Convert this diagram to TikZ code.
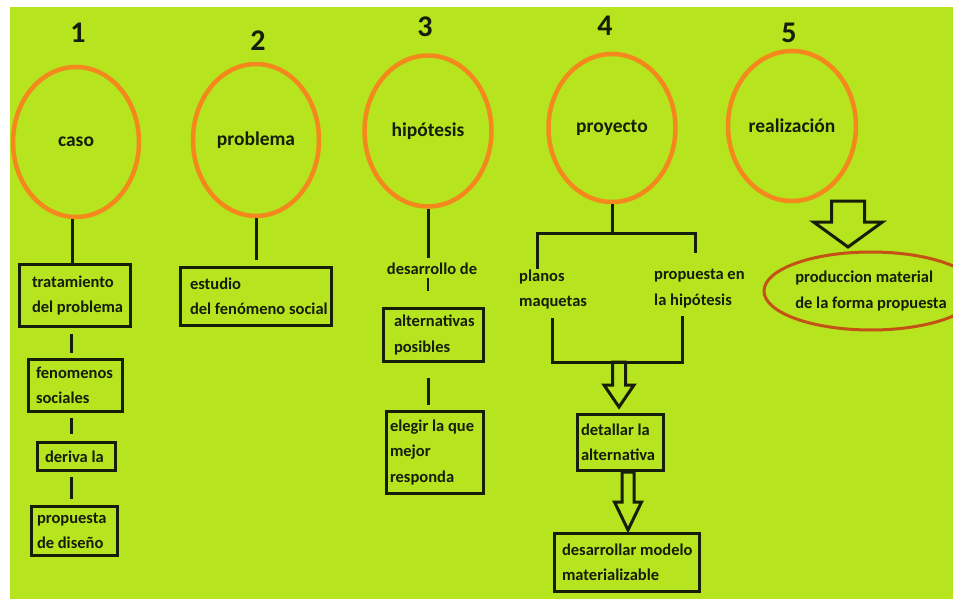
\documentclass[tikz,border=0pt]{standalone}
\usepackage{fontspec}
\setmainfont{Carlito}
\usetikzlibrary{shapes.geometric,calc}
\definecolor{bggreen}{RGB}{182,228,30}
\definecolor{ringorange}{RGB}{244,136,28}
\definecolor{ringred}{RGB}{196,82,22}
\definecolor{ink}{RGB}{22,30,10}
\tikzset{
  ring/.style={ellipse, draw=ringorange, line width=4.5pt, inner sep=0pt, text=ink,
    font=\fontsize{19.5}{22}\selectfont\bfseries},
  numlabel/.style={inner sep=0pt, text=ink, font=\fontsize{30}{32}\selectfont\bfseries},
  stepbox/.style={draw=ink, line width=3pt, align=flush left, inner ysep=2pt, text=ink,
    font=\fontsize{16.5}{25.5}\selectfont\bfseries},
  plaintext/.style={inner sep=0pt, align=left, text=ink,
    font=\fontsize{16.5}{25.5}\selectfont\bfseries},
  conn/.style={draw=ink, line width=3pt},
  harrow/.style={draw=ink, line width=3pt, line join=miter},
}
\newcommand\hollowdown[5]{%
  \draw[harrow] let \p1=(#1), \p2=(#2) in
    (\x1-#3,\y1) -- (\x1-#3,\y2+#5) -- (\x1-#4,\y2+#5) -- (\x1,\y2)
    -- (\x1+#4,\y2+#5) -- (\x1+#3,\y2+#5) -- (\x1+#3,\y1) -- cycle;}
\begin{document}
\begin{tikzpicture}[x=1pt,y=-1pt]
\useasboundingbox (0,0) rectangle (953,599);
\fill[white] (0,0) rectangle (953,599);
\fill[bggreen] (10,7) rectangle (953,599);

% numbers
\node[numlabel] (n1) at (78,33) {1};
\node[numlabel] (n2) at (258,41) {2};
\node[numlabel] (n3) at (425,27) {3};
\node[numlabel] (n4) at (605,26) {4};
\node[numlabel] (n5) at (789,33) {5};

% circles
\node[ring, minimum width=126pt, minimum height=150pt] (c1) at (76,142) {caso};
\node[ring, minimum width=126pt, minimum height=152pt] (c2) at (256,140) {problema};
\node[ring, minimum width=127pt, minimum height=151pt] (c3) at (428,131) {hipótesis};
\node[ring, minimum width=127pt, minimum height=148pt] (c4) at (612,128) {proyecto};
\node[ring, minimum width=128pt, minimum height=150pt] (c5) at (792,126) {realización};

% column 1
\node[stepbox, text width=86pt, inner xsep=12.5pt, minimum height=62pt] (b1) at (75,295.5)
  {tratamiento\\\mbox{del problema}};
\node[stepbox, text width=79pt, inner xsep=7.5pt, minimum height=52pt] (b2) at (75.5,385.5)
  {fenomenos\\sociales};
\node[stepbox, text width=63pt, inner xsep=7.5pt, minimum height=28pt] (b3) at (76.5,456.5)
  {deriva la};
\node[stepbox, text width=75pt, inner xsep=5.5pt, minimum height=49pt] (b4) at (74.5,531)
  {propuesta\\de diseño};

% column 2
\node[stepbox, text width=132pt, inner xsep=9.5pt, minimum height=58pt] (b5) at (256,296.5)
  {estudio\\\mbox{del fenómeno social}};

% column 3
\node[plaintext] (dd) at (432,269) {desarrollo de};
\node[stepbox, text width=79pt, inner xsep=10.5pt, minimum height=53pt] (b6) at (433.5,335)
  {\mbox{alternativas}\\posibles};
\node[stepbox, text width=90pt, inner xsep=3.5pt, minimum height=82pt] (b7) at (435,452.5)
  {elegir la que\\mejor\\responda};

% column 4
\node[plaintext, anchor=west] (pl) at (519,289.5) {planos\\maquetas};
\node[plaintext, anchor=west] (pr) at (654,288.5) {propuesta en\\la hipótesis};
\node[stepbox, text width=79pt, inner xsep=3.5pt, minimum height=56pt] (b8) at (620.5,442.5)
  {detallar la\\alternativa};
\node[stepbox, text width=130pt, inner xsep=7.5pt, minimum height=58pt] (b9) at (627,562.5)
  {\mbox{desarrollar modelo}\\materializable};

% column 5
\node[ellipse, draw=ringred, line width=3pt, inner sep=0pt, minimum width=210pt, minimum height=78pt,
  align=left, text=ink, font=\fontsize{16.5}{26.5}\selectfont\bfseries] (prod) at (871,291)
  {produccion material\\de la forma propuesta};

% connectors column 1
\draw[conn] ([xshift=-4pt]c1.south) -- ([xshift=-4pt]c1.south |- b1.north);
\draw[conn, shorten <=6pt, shorten >=5pt] ([xshift=-4pt]b1.south) -- ([xshift=-4pt]b1.south |- b2.north);
\draw[conn, shorten <=5pt, shorten >=7pt] ([xshift=-4pt]b1.south |- b2.south) -- ([xshift=-4pt]b1.south |- b3.north);
\draw[conn, shorten <=5pt, shorten >=6pt] ([xshift=-4pt]b1.south |- b3.south) -- ([xshift=-4pt]b1.south |- b4.north);

% column 2
\draw[conn, shorten >=6pt] (c2.south) -- (c2.south |- b5.north);

% column 3
\draw[conn, shorten >=5pt] (c3.south) -- (c3.south |- dd.north);
\draw[conn, line width=2.5pt, shorten <=3pt, shorten >=16pt] (c3.south |- dd.south) -- (c3.south |- b6.north);
\draw[conn, shorten <=15pt, shorten >=5pt] (c3.south |- b6.south) -- (c3.south |- b7.north);

% column 4 brackets
\coordinate (brL) at (537,233);
\coordinate (brR) at (695,233);
\draw[conn] (c4.south) -- (c4.south |- brL);
\draw[conn, line cap=rect] (brL) -- (brR);
\draw[conn] (brL) -- (brL |- pl.north);
\draw[conn, shorten >=16pt] (brR) -- (brR |- pr.north);
\coordinate (lbL) at (552,362);
\coordinate (lbR) at (682,362);
\draw[conn, line join=miter] ($(lbL |- pl.south)+(0,8)$) -- (lbL) -- (lbR) -- ($(lbR |- pr.south)+(0,8)$);

% hollow arrows
\coordinate (a1s) at (619,362);
\coordinate (a1e) at (619,407);
\hollowdown{a1s}{a1e}{6.5pt}{15pt}{22pt}
\coordinate (a2s) at (628,472);
\coordinate (a2e) at (628,530);
\hollowdown{a2s}{a2e}{6pt}{13.5pt}{28pt}
\coordinate (a5s) at (848,201);
\coordinate (a5e) at (848,247);
\hollowdown{a5s}{a5e}{16.5pt}{34.5pt}{25pt}
\end{tikzpicture}
\end{document}
